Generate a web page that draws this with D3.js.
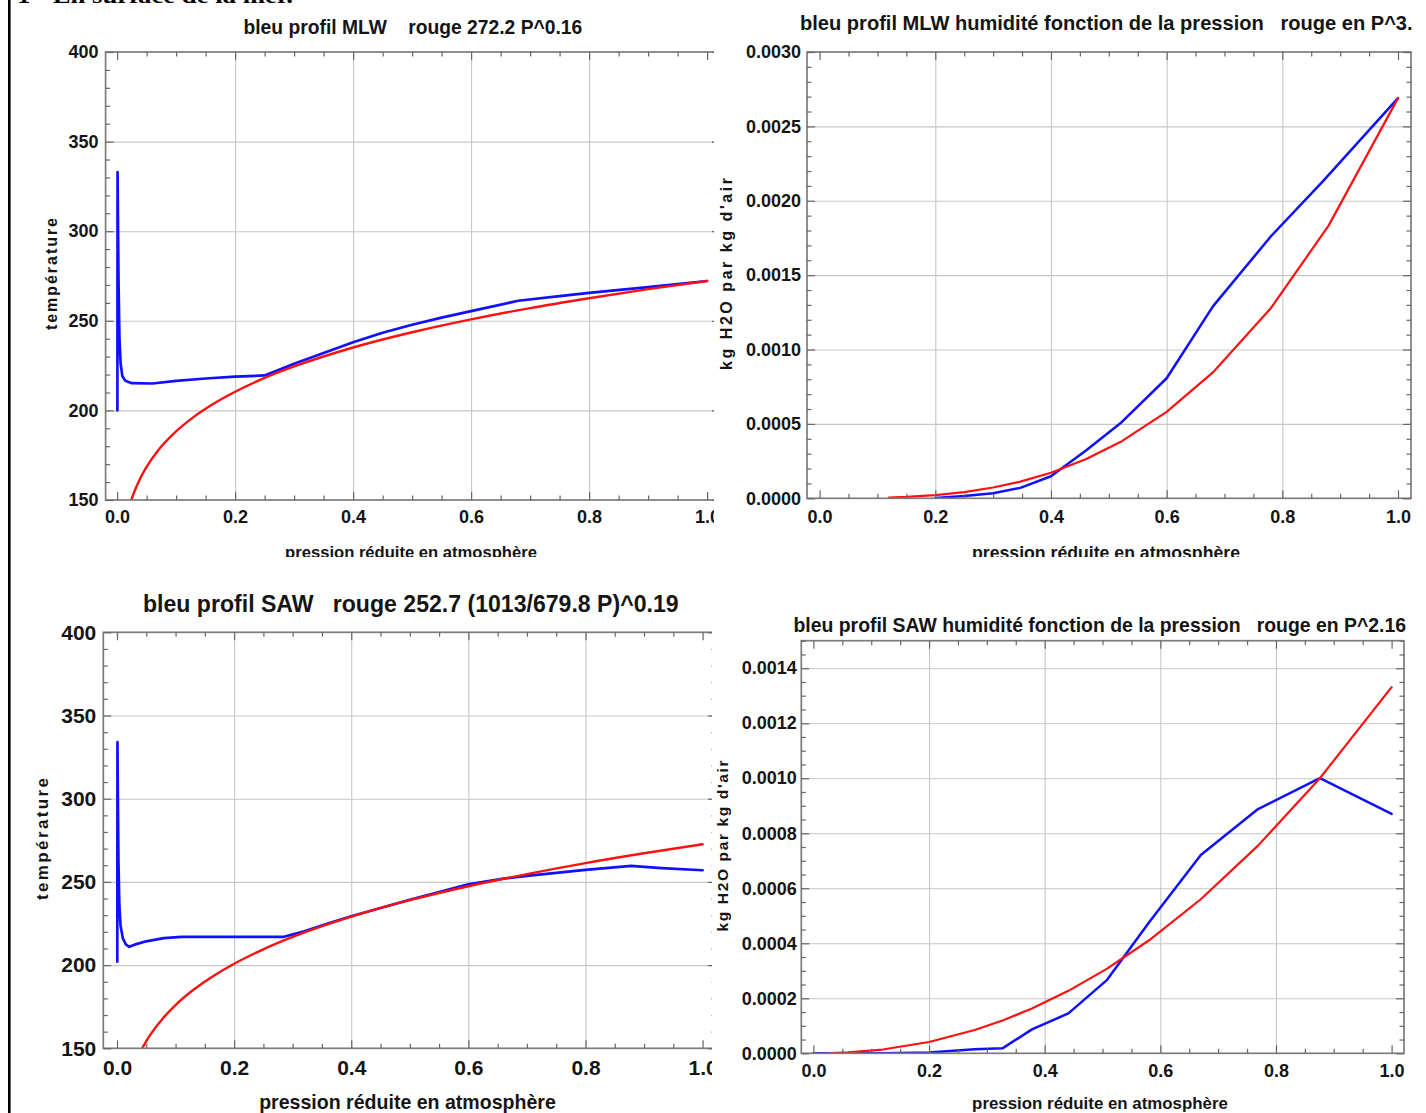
<!DOCTYPE html>
<html><head><meta charset="utf-8">
<script src="https://cdn.jsdelivr.net/npm/d3@7"></script>
<style>
html,body{margin:0;padding:0;background:#fff;}
svg{display:block;}
text{font-family:"Liberation Sans",Arial,Helvetica,sans-serif;font-weight:bold;fill:#151515;white-space:pre;}
</style></head><body>
<svg id="chart" width="1426" height="1113" xmlns="http://www.w3.org/2000/svg"></svg>
<script>
// ---------- tick values ----------
const pressureTicks = [0, 0.2, 0.4, 0.6, 0.8, 1.0];
const tempTicks = [150, 200, 250, 300, 350, 400];
const mlwHumTicks = [0, 0.0005, 0.001, 0.0015, 0.002, 0.0025, 0.003];
const sawHumTicks = [0, 0.0002, 0.0004, 0.0006, 0.0008, 0.001, 0.0012, 0.0014];

// ---------- texts ----------
const headerText = "1 - En surface de la mer.";
const panelTitles = [
  "bleu profil MLW    rouge 272.2 P^0.16",
  "bleu profil MLW humidité fonction de la pression   rouge en P^3.",
  "bleu profil SAW   rouge 252.7 (1013/679.8 P)^0.19",
  "bleu profil SAW humidité fonction de la pression   rouge en P^2.16"
];
const xAxisLabel = "pression réduite en atmosphère";
const tempAxisLabel = "température";
const humAxisLabel = "kg H2O par kg d'air";

// ---------- panel 1 : MLW temperature ----------
const mlwTempBlueP = [0.0005, 0.0008, 0.0015, 0.0025, 0.004, 0.006, 0.009, 0.014, 0.025, 0.06, 0.1, 0.15, 0.2, 0.25, 0.3, 0.35, 0.4, 0.45, 0.5, 0.55, 0.6, 0.68, 0.75, 0.8, 0.9, 1.0];
const mlwTempBlueT = [200, 333, 305, 270, 240, 226, 219, 216.5, 215.2, 215, 216.5, 217.8, 218.8, 219.5, 226, 232, 238, 243.3, 247.8, 251.8, 255.4, 261.2, 263.8, 265.6, 268.8, 272.2];
const mlwTempRedP = [0.024, 0.03, 0.04, 0.05, 0.07, 0.1, 0.13, 0.16, 0.2, 0.25, 0.3, 0.4, 0.5, 0.6, 0.7, 0.8, 0.9, 1.0];
const mlwTempRedT = [149.9, 155.3, 162.6, 168.5, 177.9, 188.3, 196.4, 203.0, 210.4, 218.1, 224.5, 235.1, 243.6, 250.8, 257.1, 262.6, 267.7, 272.2];

// ---------- panel 2 : MLW humidity ----------
const mlwHumBlueP = [0.2, 0.25, 0.3, 0.347, 0.4, 0.46, 0.52, 0.6, 0.68, 0.78, 0.87, 1.0];
const mlwHumBlueQ = [0.000002, 0.000015, 0.000034, 0.00007, 0.000148, 0.00032, 0.000504, 0.000807, 0.00129, 0.00176, 0.00213, 0.00269];
const mlwHumRedP = [0.12, 0.15, 0.2, 0.25, 0.3, 0.347, 0.4, 0.46, 0.52, 0.6, 0.68, 0.78, 0.88, 1.0];
const mlwHumRedQ = [0.0000046, 0.0000091, 0.0000215, 0.000042, 0.0000726, 0.000112, 0.000172, 0.000262, 0.000378, 0.000581, 0.000846, 0.001277, 0.001833, 0.00269];

// ---------- panel 3 : SAW temperature ----------
const sawTempBlueP = [0.0005, 0.0008, 0.0015, 0.0025, 0.004, 0.006, 0.01, 0.015, 0.021, 0.03, 0.05, 0.08, 0.11, 0.2, 0.285, 0.32, 0.36, 0.4, 0.5, 0.6, 0.66, 0.7, 0.8, 0.878, 0.93, 1.0];
const sawTempBlueT = [202, 334, 300, 262, 236, 224, 216, 212.5, 211, 212.3, 214.3, 216.2, 217, 217, 217, 220.3, 225, 229.4, 239.3, 248.5, 252, 253.6, 257.2, 259.6, 258.3, 257];
const sawTempRedP = [0.043, 0.05, 0.06, 0.08, 0.1, 0.13, 0.16, 0.2, 0.25, 0.3, 0.4, 0.5, 0.6, 0.7, 0.8, 0.9, 1.0];
const sawTempRedT = [149.9, 154.3, 159.7, 168.7, 176.0, 185.0, 192.4, 200.8, 209.5, 216.9, 229.1, 239.0, 247.4, 254.7, 261.3, 267.2, 272.6];

// ---------- panel 4 : SAW humidity ----------
const sawHumBlueP = [0, 0.06, 0.12, 0.2, 0.279, 0.327, 0.378, 0.441, 0.508, 0.58, 0.67, 0.769, 0.876, 1.0];
const sawHumBlueQ = [0, 0, 0.0000005, 0.000003, 0.000015, 0.000018, 0.000087, 0.000145, 0.000267, 0.000475, 0.000721, 0.000888, 0.0010, 0.00087];
const sawHumRedP = [0.03, 0.06, 0.12, 0.2, 0.279, 0.327, 0.378, 0.441, 0.508, 0.58, 0.67, 0.769, 0.876, 1.0];
const sawHumRedQ = [0.0000007, 0.0000031, 0.0000137, 0.0000412, 0.0000845, 0.000119, 0.000163, 0.000227, 0.000308, 0.00041, 0.00056, 0.000755, 0.001, 0.001331];

// =====================================================
const svg = d3.select("#chart");
const defs = svg.append("defs");

function minorValues(lo, hi, step, major) {
  return d3.range(lo, hi + step / 2, step).filter(v => Math.abs(v / major - Math.round(v / major)) > 1e-6);
}

// place a text and squeeze it horizontally to a target width
function fitText(parent, str, x, y, size, target, anchor) {
  const t = parent.append("text").attr("font-size", size).attr("text-anchor", anchor || "start")
    .attr("xml:space", "preserve").text(str);
  const n = t.node().getComputedTextLength();
  const s = n > 0 ? target / n : 1;
  t.attr("transform", `translate(${x},${y}) scale(${s},1)`);
  return t;
}

function drawPanel(o) {
  defs.append("clipPath").attr("id", "pc" + o.id).append("rect")
    .attr("x", o.clip[0]).attr("y", o.clip[1])
    .attr("width", o.clip[2] - o.clip[0]).attr("height", o.clip[3] - o.clip[1]);
  const L = o.frameL, R = o.frameR, T = o.yTop, B = o.yBot;
  defs.append("clipPath").attr("id", "pa" + o.id).append("rect")
    .attr("x", L).attr("y", T).attr("width", R - L).attr("height", B - T);

  const outer = svg.append("g");
  const g = outer.append("g").attr("clip-path", `url(#pc${o.id})`);
  const x = d3.scaleLinear().domain([0, 1]).range([o.x0, o.x1]);
  const y = d3.scaleLinear().domain(o.yDomain).range([B, T]);

  // grid lines
  const gridX = pressureTicks.filter(v => v > 0 && v < 1);
  const gridY = o.yTicks.filter(v => v > o.yDomain[0] && v < o.yDomain[1]);
  g.append("g").attr("transform", `translate(0,${B})`)
    .call(d3.axisBottom(x).tickValues(gridX).tickSize(-(B - T)).tickFormat(""))
    .call(s => s.select(".domain").remove())
    .selectAll("line").attr("stroke", "#c6c6c6").attr("stroke-width", 1.1);
  g.append("g").attr("transform", `translate(${L},0)`)
    .call(d3.axisLeft(y).tickValues(gridY).tickSize(-(R - L)).tickFormat(""))
    .call(s => s.select(".domain").remove())
    .selectAll("line").attr("stroke", "#c6c6c6").attr("stroke-width", 1.1);

  // curves
  const plot = g.append("g").attr("clip-path", `url(#pa${o.id})`);
  const lineLin = d3.line().x(d => x(d[0])).y(d => y(d[1])).curve(d3.curveLinear);
  const lineSmooth = d3.line().x(d => x(d[0])).y(d => y(d[1])).curve(d3.curveMonotoneX);
  plot.append("path").datum(d3.zip(o.blueP, o.blueV))
    .attr("d", lineLin).attr("fill", "none").attr("stroke", "#1010ff")
    .attr("stroke-width", o.lw).attr("stroke-linejoin", "round").attr("stroke-linecap", "round");
  plot.append("path").datum(d3.zip(o.redP, o.redV))
    .attr("d", o.redSmooth ? lineSmooth : lineLin).attr("fill", "none").attr("stroke", "#ff1010")
    .attr("stroke-width", o.lw - 0.3).attr("stroke-linejoin", "round").attr("stroke-linecap", "round");

  // frame
  g.append("rect").attr("x", L).attr("y", T).attr("width", R - L).attr("height", B - T)
    .attr("fill", "none").attr("stroke", "#7c7c7c").attr("stroke-width", 1.7);

  const tickCol = "#666";
  const minorX = minorValues(0, 1, 0.05, 0.2);
  const minorY = minorValues(o.yDomain[0], o.yDomain[1], o.yMinor, o.yMajor);
  function styleAxis(s) {
    s.select(".domain").remove();
    s.selectAll("line").attr("stroke", tickCol).attr("stroke-width", 1.2);
    s.attr("font-family", null).attr("font-size", null);
  }
  // bottom
  const bx = g.append("g").attr("transform", `translate(0,${B})`)
    .call(d3.axisBottom(x).tickValues(pressureTicks).tickSize(-8).tickPadding(o.xPad).tickFormat(d3.format(".1f")))
    .call(styleAxis);
  bx.selectAll("text").attr("font-size", o.tickFont).attr("fill", "#151515");
  g.append("g").attr("transform", `translate(0,${B})`)
    .call(d3.axisBottom(x).tickValues(minorX).tickSize(-4.5).tickFormat("")).call(styleAxis);
  // top
  g.append("g").attr("transform", `translate(0,${T})`)
    .call(d3.axisTop(x).tickValues(pressureTicks).tickSize(-8).tickFormat("")).call(styleAxis);
  g.append("g").attr("transform", `translate(0,${T})`)
    .call(d3.axisTop(x).tickValues(minorX).tickSize(-4.5).tickFormat("")).call(styleAxis);
  // left
  const ly = g.append("g").attr("transform", `translate(${L},0)`)
    .call(d3.axisLeft(y).tickValues(o.yTicks).tickSize(-8).tickPadding(o.yPad).tickFormat(o.yFmt))
    .call(styleAxis);
  ly.selectAll("text").attr("font-size", o.tickFont).attr("fill", "#151515");
  g.append("g").attr("transform", `translate(${L},0)`)
    .call(d3.axisLeft(y).tickValues(minorY).tickSize(-4.5).tickFormat("")).call(styleAxis);
  // right
  g.append("g").attr("transform", `translate(${R},0)`)
    .call(d3.axisRight(y).tickValues(o.yTicks).tickSize(-8).tickFormat("")).call(styleAxis);
  g.append("g").attr("transform", `translate(${R},0)`)
    .call(d3.axisRight(y).tickValues(minorY).tickSize(-4.5).tickFormat("")).call(styleAxis);

  // title (not clipped, it lies inside the panel)
  fitText(outer, o.title.text, o.title.x, o.title.y, o.title.size, o.title.len, "start");
  // x label (clipped like the reference page)
  fitText(g, xAxisLabel, o.xl.cx, o.xl.y, o.xl.size, o.xl.len, "middle");
  // y label
  outer.append("text").attr("transform", `translate(${o.yl.x},${o.yl.cy}) rotate(-90)`)
    .attr("text-anchor", "middle").attr("font-size", o.yl.size)
    .attr("textLength", o.yl.len).attr("lengthAdjust", "spacing")
    .text(o.yl.text);
}

drawPanel({
  id: 1, clip: [12, 0, 714, 557],
  x0: 117.1, x1: 707.1, frameL: 105.6, frameR: 720, yTop: 52, yBot: 500,
  yDomain: [150, 400], yTicks: tempTicks, yMajor: 50, yMinor: 10, yFmt: d3.format("d"),
  tickFont: 18, xPad: 10.5, yPad: 7,
  blueP: mlwTempBlueP, blueV: mlwTempBlueT, redP: mlwTempRedP, redV: mlwTempRedT, redSmooth: true, lw: 2.7,
  title: {text: panelTitles[0], x: 243.5, y: 34, size: 21, len: 339},
  xl: {cx: 411, y: 558, size: 17, len: 252},
  yl: {text: tempAxisLabel, x: 57, cy: 274, size: 16, len: 112}
});
drawPanel({
  id: 2, clip: [714, 0, 1426, 557],
  x0: 819.6, x1: 1398, frameL: 807, frameR: 1411, yTop: 52, yBot: 498.3,
  yDomain: [0, 0.003], yTicks: mlwHumTicks, yMajor: 0.0005, yMinor: 0.0001, yFmt: d3.format(".4f"),
  tickFont: 18, xPad: 11.5, yPad: 6,
  blueP: mlwHumBlueP, blueV: mlwHumBlueQ, redP: mlwHumRedP, redV: mlwHumRedQ, redSmooth: false, lw: 2.5,
  title: {text: panelTitles[1], x: 800, y: 29.5, size: 21, len: 613},
  xl: {cx: 1106, y: 559, size: 17.5, len: 268},
  yl: {text: humAxisLabel, x: 731.5, cy: 274, size: 16, len: 192}
});
drawPanel({
  id: 3, clip: [12, 557, 712, 1113],
  x0: 117, x1: 702.6, frameL: 103.3, frameR: 716, yTop: 632.3, yBot: 1048.3,
  yDomain: [150, 400], yTicks: tempTicks, yMajor: 50, yMinor: 10, yFmt: d3.format("d"),
  tickFont: 21, xPad: 12, yPad: 7,
  blueP: sawTempBlueP, blueV: sawTempBlueT, redP: sawTempRedP, redV: sawTempRedT, redSmooth: true, lw: 2.7,
  title: {text: panelTitles[2], x: 143, y: 611.5, size: 23, len: 536},
  xl: {cx: 407.5, y: 1108.5, size: 19.5, len: 297},
  yl: {text: tempAxisLabel, x: 48, cy: 839, size: 17, len: 122}
});
drawPanel({
  id: 4, clip: [712, 557, 1426, 1113],
  x0: 813.4, x1: 1391.6, frameL: 801.3, frameR: 1404, yTop: 640.7, yBot: 1053.3,
  yDomain: [0, 0.0015], yTicks: sawHumTicks, yMajor: 0.0002, yMinor: 0.00005, yFmt: d3.format(".4f"),
  tickFont: 18, xPad: 10.5, yPad: 4.5,
  blueP: sawHumBlueP, blueV: sawHumBlueQ, redP: sawHumRedP, redV: sawHumRedQ, redSmooth: false, lw: 2.5,
  title: {text: panelTitles[3], x: 793.5, y: 631.5, size: 20, len: 613},
  xl: {cx: 1100, y: 1108.5, size: 17, len: 256},
  yl: {text: humAxisLabel, x: 728, cy: 846, size: 15.5, len: 171}
});

// page decorations: document border line and cut-off header line
svg.append("rect").attr("x", 8).attr("y", 0).attr("width", 2.6).attr("height", 1113).attr("fill", "#000");
const hdr = svg.append("text").attr("x", 17).attr("y", 3).attr("font-size", 21)
  .attr("textLength", 276).attr("lengthAdjust", "spacingAndGlyphs")
  .style("font-family", "'Liberation Serif','Times New Roman',serif").style("fill", "#000")
  .text(headerText);
</script>
</body></html>
